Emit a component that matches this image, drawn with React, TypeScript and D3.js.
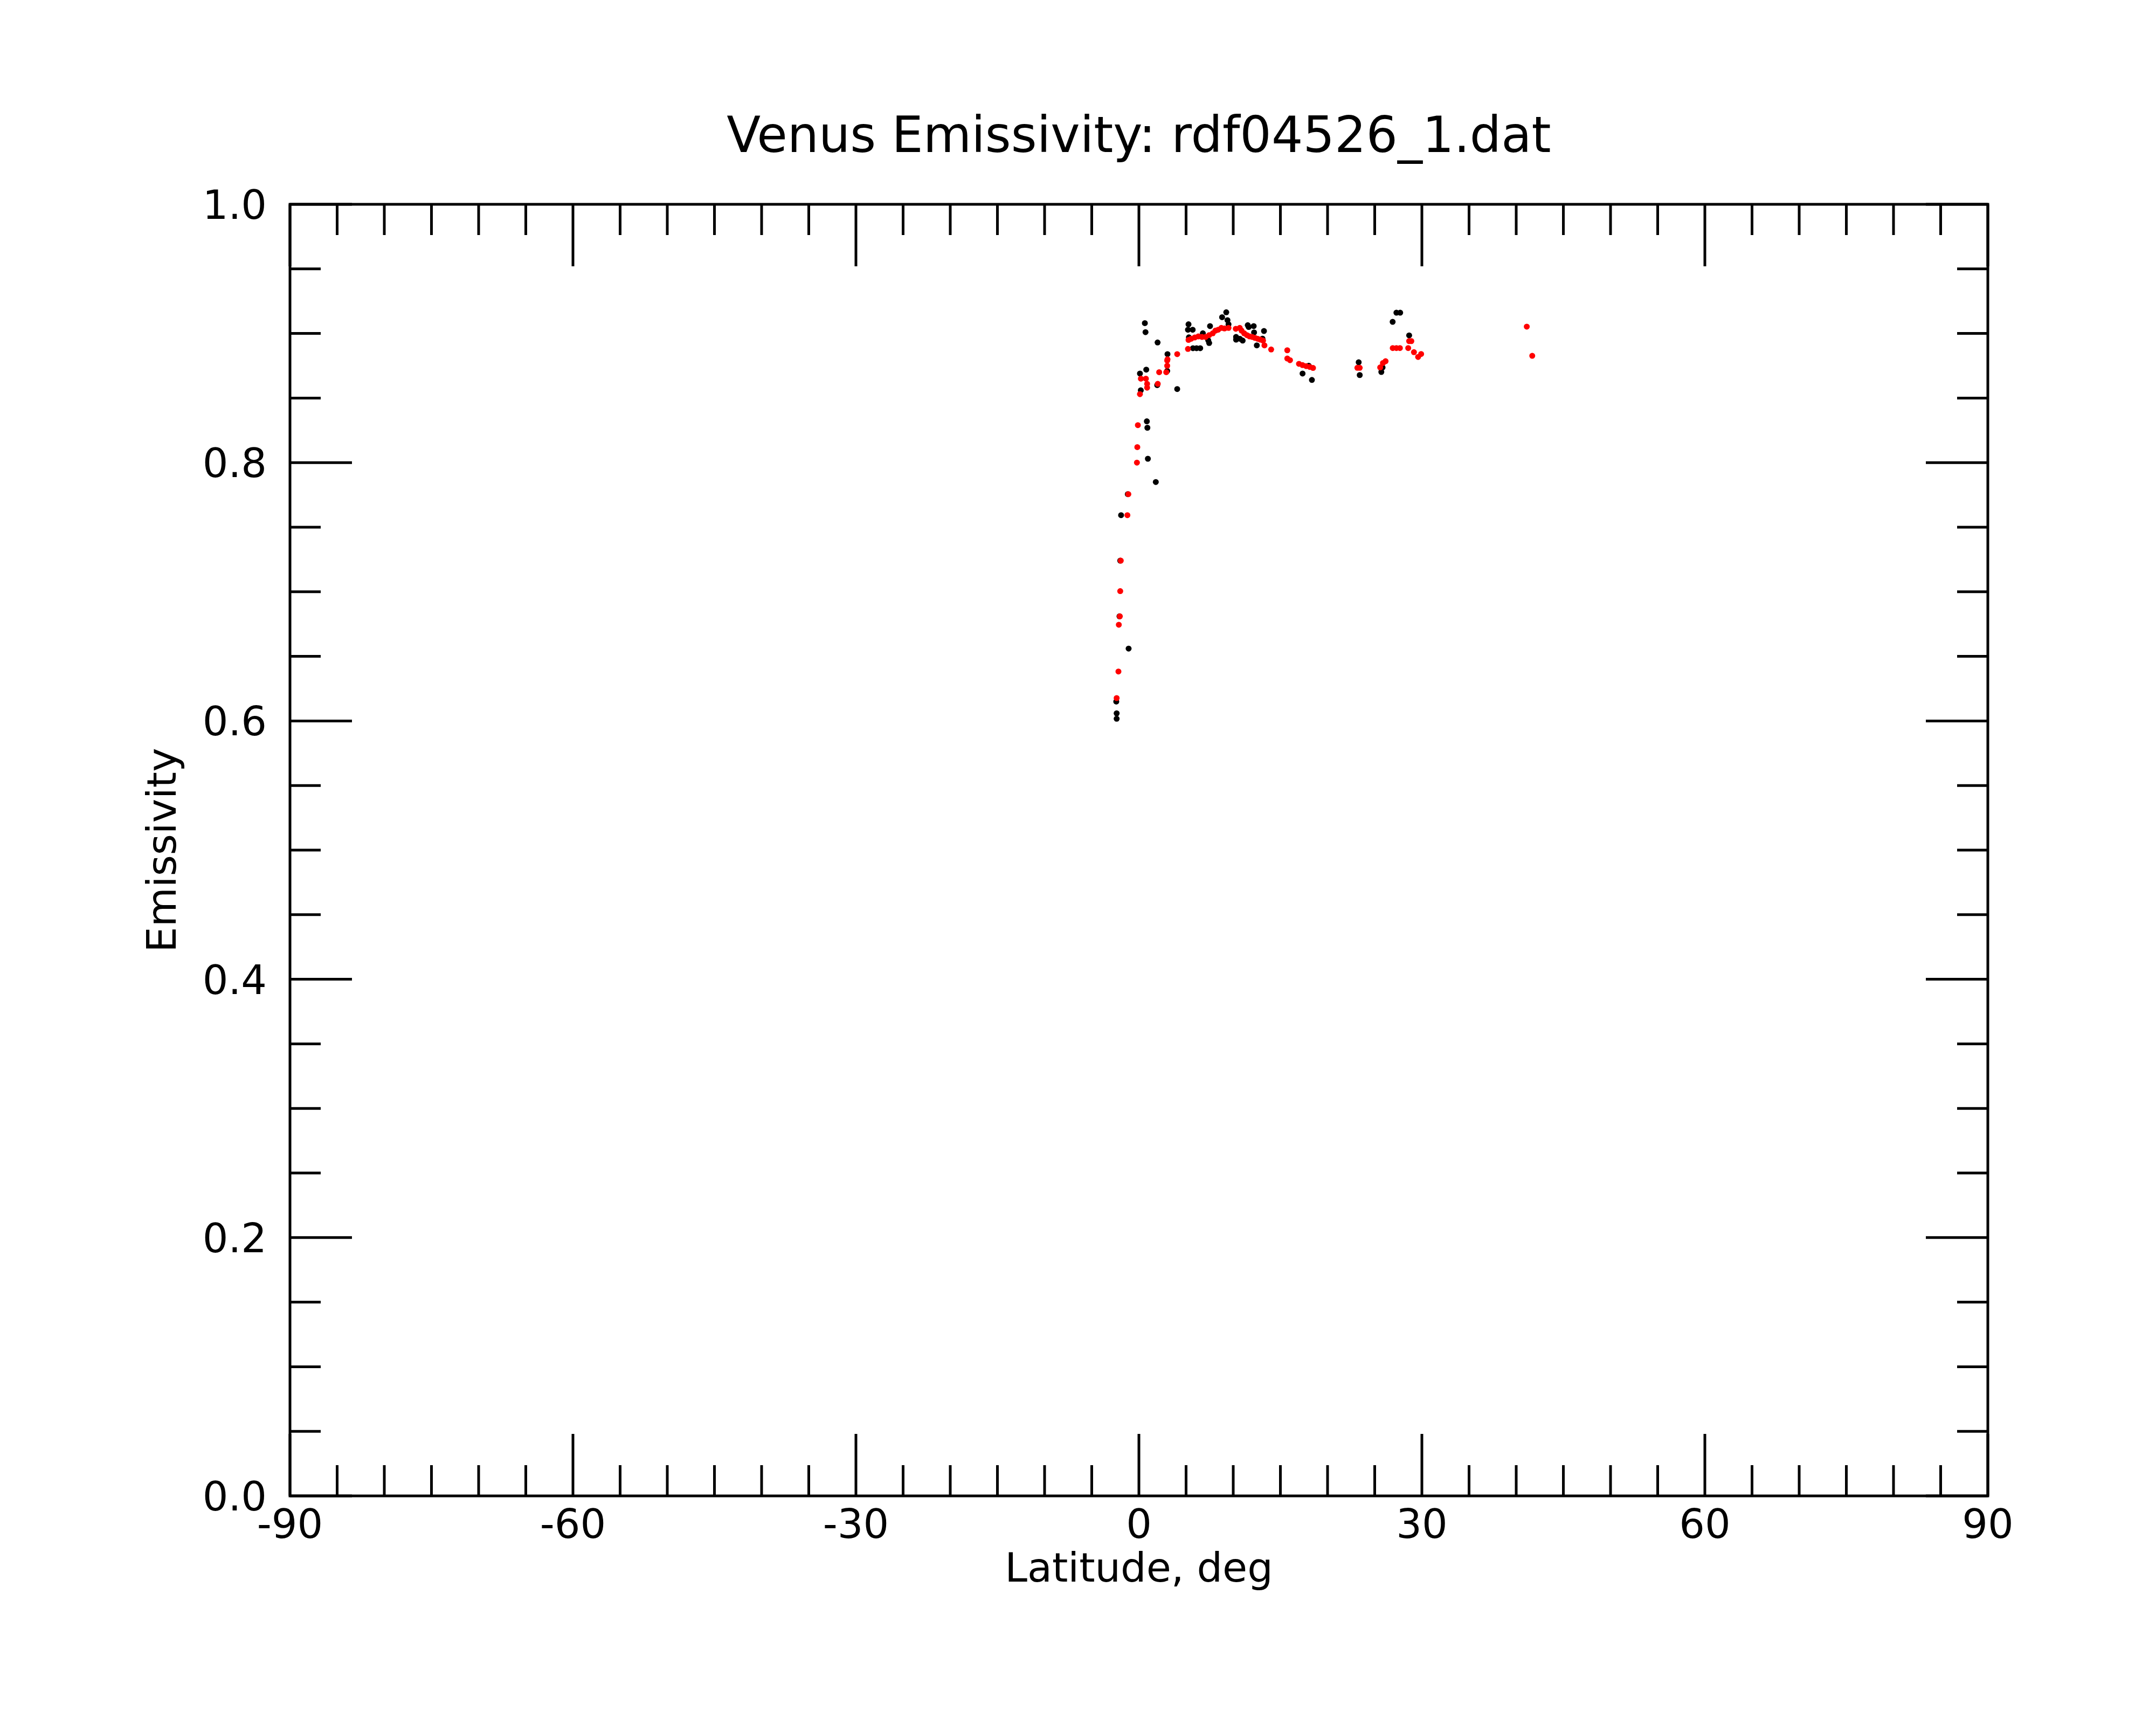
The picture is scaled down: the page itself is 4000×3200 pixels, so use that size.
import React from "react";
import * as d3 from "d3";

const TITLE = "Venus Emissivity: rdf04526_1.dat";
const X_LABEL = "Latitude, deg";
const Y_LABEL = "Emissivity";
const X_TICKS = [-90, -60, -30, 0, 30, 60, 90];
const Y_TICKS = [0.0, 0.2, 0.4, 0.6, 0.8, 1.0];

// black series [latitude, emissivity]
const blackLat = [
  0.63, 0.70, 1.98, 3.03, 0.78, 0.11, 4.06, 1.94, 3.0, 0.2, 0.84, 0.9, 0.95, 1.79,
  -1.18, -1.89, -1.98, -2.06, -1.09, -2.4, -2.36, -2.36,
  5.26, 5.2, 5.7, 9.26, 8.82, 9.39, 9.5, 7.54, 6.78, 7.35, 7.45, 6.11, 6.5, 5.73, 5.3,
  10.3, 10.7, 10.3, 11.54, 11.64, 12.17, 12.21, 13.26, 12.5, 11.0, 13.1,
  17.35, 18.34, 18.0,
  23.3, 23.41, 25.83, 25.7, 27.3, 27.7, 26.9, 28.65,
];
const blackEm = [
  0.908, 0.901, 0.893, 0.884, 0.872, 0.869, 0.857, 0.860, 0.871, 0.856, 0.832, 0.827, 0.803, 0.785,
  0.7756, 0.7593, 0.7241, 0.681, 0.656, 0.615, 0.6059, 0.6017,
  0.9071, 0.9029, 0.9029, 0.9164, 0.9126, 0.9103, 0.9071, 0.9057, 0.9001, 0.8947, 0.8926, 0.8886, 0.8886, 0.8886, 0.897,
  0.8973, 0.8959, 0.8952, 0.9064, 0.905, 0.9057, 0.9008, 0.9019, 0.8908, 0.8945, 0.896,
  0.869, 0.864, 0.875,
  0.8777, 0.8678, 0.8737, 0.8702, 0.9161, 0.9161, 0.909, 0.8985,
];

// red series [latitude, emissivity]
const redLat = [
  -0.11, -0.17, -0.21, 0.11, 0.21, 0.74, 0.87, 0.87, 2.0, 2.15, 2.9, 3.0, 3.0, 3.03, 4.06,
  -1.12, -1.22, -1.92, -1.98, -2.02, -2.13, -2.17, -2.36,
  5.2, 5.26, 5.54, 5.92, 6.30, 6.69, 7.07, 7.45, 7.83, 8.11, 8.4, 8.74, 9.07, 9.5,
  10.27, 10.69, 10.88, 11.16, 11.45, 11.73, 12.02, 12.3, 12.59, 12.87, 13.16, 13.31, 14.02,
  15.73, 15.73, 16.02, 16.97, 17.35, 17.73, 18.11, 18.46,
  23.16, 23.41, 25.58, 25.87, 26.15, 26.91, 27.30, 27.67, 28.65, 28.88, 28.55, 29.16, 29.6, 29.92,
  41.12, 41.7,
];
const redEm = [
  0.829, 0.812, 0.800, 0.853, 0.865, 0.865, 0.861, 0.858, 0.861, 0.870, 0.870, 0.875, 0.879, 0.880, 0.884,
  0.7756, 0.7593, 0.7241, 0.7005, 0.681, 0.6745, 0.6383, 0.6177,
  0.888, 0.895, 0.8959, 0.8969, 0.8977, 0.8973, 0.8973, 0.8987, 0.9001, 0.9022, 0.9029, 0.9043, 0.9039, 0.9043,
  0.9036, 0.9043, 0.9022, 0.9001, 0.8987, 0.8977, 0.8973, 0.8966, 0.8959, 0.8952, 0.8945, 0.8908, 0.8876,
  0.887, 0.8806, 0.8793, 0.8765, 0.8755, 0.8747, 0.8741, 0.8733,
  0.8734, 0.8734, 0.8737, 0.8771, 0.8785, 0.8887, 0.8887, 0.8887, 0.8941, 0.8941, 0.8887, 0.8855, 0.8818, 0.8841,
  0.9053, 0.8827,
];

const W = 4000;
const H = 3200;
const L = 538, R = 3688, T = 379, B = 2775;
const FONT = "DejaVu Sans, sans-serif";

export default function App() {
  const x = d3.scaleLinear().domain([-90, 90]).range([L, R]);
  const y = d3.scaleLinear().domain([0, 1]).range([B, T]);
  const xMinor = d3.range(-90, 90.001, 5);
  const yMinor = d3.range(0, 1.0001, 0.05);
  const isMajorX = (v: number) => Math.abs(v % 30) < 1e-6;
  const isMajorY = (v: number) => Math.abs(Math.round(v * 100) % 20) < 1e-6;
  const MAJ = 115, MIN = 57, SW = 5;

  const black = blackLat.map((v, i) => [v, blackEm[i]]);
  const red = redLat.map((v, i) => [v, redEm[i]]);

  return (
    <svg width={W} height={H} style={{ position: "absolute", left: 0, top: 0, background: "#fff" }}>
      <rect x={0} y={0} width={W} height={H} fill="#fff" />
      <text x={(L + R) / 2} y={282} textAnchor="middle" fontFamily={FONT} fontSize={92} fill="#000">{TITLE}</text>
      {/* ticks */}
      <g stroke="#000" strokeWidth={SW}>
        {xMinor.map((v) => {
          const len = isMajorX(v) ? MAJ : MIN;
          const px = x(v);
          return (
            <g key={"xt" + v}>
              <line x1={px} x2={px} y1={B} y2={B - len} />
              <line x1={px} x2={px} y1={T} y2={T + len} />
            </g>
          );
        })}
        {yMinor.map((v) => {
          const len = isMajorY(v) ? MAJ : MIN;
          const py = y(v);
          return (
            <g key={"yt" + v}>
              <line x1={L} x2={L + len} y1={py} y2={py} />
              <line x1={R} x2={R - len} y1={py} y2={py} />
            </g>
          );
        })}
      </g>
      <rect x={L} y={T} width={R - L} height={B - T} fill="none" stroke="#000" strokeWidth={SW} />
      {/* tick labels */}
      {X_TICKS.map((v) => (
        <text key={"xl" + v} x={x(v)} y={2853} textAnchor="middle" fontFamily={FONT} fontSize={75} fill="#000">{String(v)}</text>
      ))}
      {Y_TICKS.map((v) => (
        <text key={"yl" + v} x={495} y={y(v)} dy="0.36em" textAnchor="end" fontFamily={FONT} fontSize={75} fill="#000">{v.toFixed(1)}</text>
      ))}
      <text x={(L + R) / 2} y={2934} textAnchor="middle" fontFamily={FONT} fontSize={75} fill="#000">{X_LABEL}</text>
      <text transform={`translate(326, ${(T + B) / 2}) rotate(-90)`} textAnchor="middle" fontFamily={FONT} fontSize={75} fill="#000">{Y_LABEL}</text>
      {/* points */}
      <g fill="#000">
        {black.map((d, i) => (
          <circle key={"b" + i} cx={x(d[0])} cy={y(d[1])} r={5.5} />
        ))}
      </g>
      <g fill="#ff0000">
        {red.map((d, i) => (
          <circle key={"r" + i} cx={x(d[0])} cy={y(d[1])} r={5.5} />
        ))}
      </g>
    </svg>
  );
}
